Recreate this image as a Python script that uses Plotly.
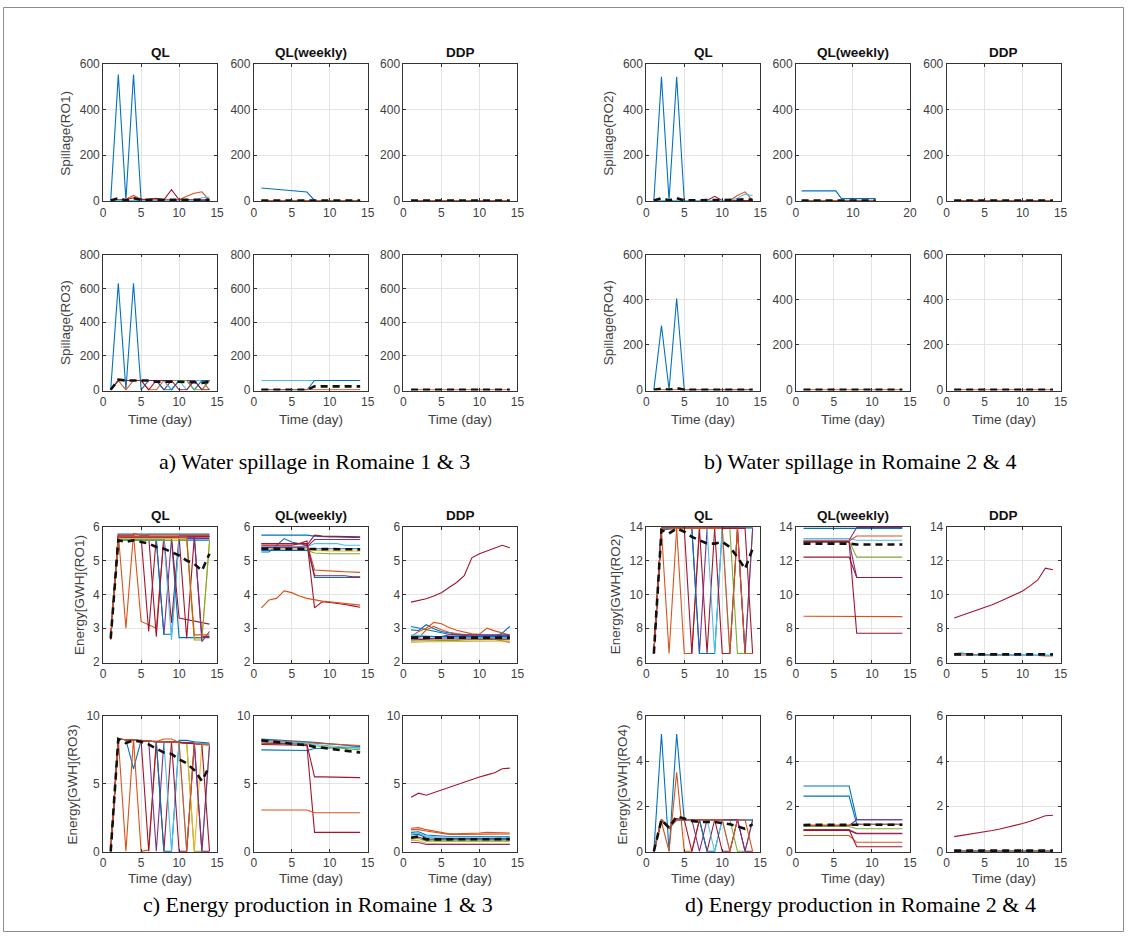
import plotly.graph_objects as go

W, H = 1131, 938
B = "#0072BD"; O = "#D95319"; Y = "#EDB120"; P = "#7E2F8E"; G = "#77AC30"; C = "#4DBEEE"; R = "#A2142F"

DAYS = [1, 2, 3, 4, 5, 6, 7, 8, 9, 10, 11, 12, 13, 14]
ZEROS = [0, 0, 0, 0, 0, 0, 0, 0, 0, 0, 0, 0, 0, 0]

# ---------------- Spillage RO1 ----------------
sp_ro1_ql = [
    [0, 555, 0, 555, 0, 0, 0, 0, 0, 0, 0, 0, 0, 0],
    [0, 3, 5, 22, 5, 5, 5, 3, 3, 3, 18, 32, 38, 0],
    [0, 0, 3, 12, 3, 5, 10, 3, 48, 3, 3, 3, 3, 3],
    [0, 0, 0, 0, 0, 0, 0, 0, 0, 0, 0, 0, 12, 15],
]
sp_ro1_ql_col = [B, O, R, C]
sp_ro1_ql_mean = [0, 10, 0, 10, 3, 3, 3, 3, 3, 3, 3, 3, 3, 3]

sp_ro1_wk = [
    [55, 52, 48, 45, 42, 40, 37, 0, 0, 0, 0, 0, 0, 0],
    ZEROS,
]
sp_ro1_wk_col = [B, O]
sp_ro1_wk_mean = ZEROS

sp_ro1_ddp = [ZEROS]
sp_ro1_ddp_col = [O]
sp_ro1_ddp_mean = ZEROS

# ---------------- Spillage RO3 ----------------
sp_ro3_ql = [
    [0, 630, 0, 630, 0, 55, 55, 55, 0, 55, 55, 55, 55, 55],
    [0, 55, 0, 55, 55, 0, 0, 55, 55, 55, 55, 55, 55, 0],
    [0, 55, 55, 55, 55, 0, 55, 0, 55, 55, 55, 55, 55, 55],
    [0, 55, 55, 55, 55, 55, 55, 55, 0, 55, 0, 55, 55, 55],
    [0, 55, 55, 55, 55, 55, 55, 0, 0, 55, 55, 0, 55, 55],
    [0, 55, 55, 55, 55, 55, 55, 55, 55, 55, 55, 55, 0, 55],
    [0, 55, 55, 55, 55, 55, 55, 55, 55, 55, 55, 0, 0, 55],
    [0, 55, 55, 55, 55, 55, 55, 55, 55, 0, 0, 55, 0, 0],
]
sp_ro3_ql_col = [B, O, R, C, B, P, G, R]
sp_ro3_ql_mean = [0, 60, 55, 55, 58, 55, 48, 48, 50, 48, 45, 45, 40, 48]

sp_ro3_wk = [
    [55, 55, 55, 55, 55, 55, 55, 55, 55, 55, 55, 55, 55, 55],
    [0, 0, 0, 0, 0, 0, 0, 55, 55, 55, 55, 55, 55, 55],
    ZEROS,
]
sp_ro3_wk_col = [C, B, O]
sp_ro3_wk_mean = [0, 0, 0, 0, 0, 0, 0, 20, 20, 20, 20, 20, 20, 20]

sp_ro3_ddp = [ZEROS]
sp_ro3_ddp_col = [O]
sp_ro3_ddp_mean = ZEROS

# ---------------- Spillage RO2 ----------------
sp_ro2_ql = [
    [0, 545, 0, 545, 0, 0, 0, 0, 0, 0, 0, 0, 0, 0],
    [0, 0, 0, 0, 0, 0, 0, 0, 0, 0, 0, 22, 38, 0],
    [0, 0, 0, 0, 0, 0, 0, 0, 18, 0, 0, 0, 0, 0],
    [0, 0, 0, 0, 0, 0, 0, 0, 0, 0, 0, 10, 28, 22],
]
sp_ro2_ql_col = [B, O, R, C]
sp_ro2_ql_mean = [0, 10, 0, 10, 0, 0, 0, 0, 2, 0, 0, 3, 5, 3]

sp_ro2_wk = [
    [42, 42, 42, 42, 42, 42, 42, 8, 8, 8, 8, 8, 8, 8],
    ZEROS,
]
sp_ro2_wk_col = [B, O]
sp_ro2_wk_mean = ZEROS

sp_ro2_ddp = [ZEROS]
sp_ro2_ddp_col = [O]
sp_ro2_ddp_mean = ZEROS

# ---------------- Spillage RO4 ----------------
sp_ro4_ql = [
    [0, 285, 0, 405, 0, 0, 0, 0, 0, 0, 0, 0, 0, 0],
    ZEROS,
]
sp_ro4_ql_col = [B, O]
sp_ro4_ql_mean = [0, 5, 0, 8, 0, 0, 0, 0, 0, 0, 0, 0, 0, 0]

sp_ro4_wk = [ZEROS]
sp_ro4_wk_col = [O]
sp_ro4_wk_mean = ZEROS

sp_ro4_ddp = [ZEROS]
sp_ro4_ddp_col = [O]
sp_ro4_ddp_mean = ZEROS

# ---------------- Energy RO1 ----------------
en_ro1_ql = [
    [2.7, 5.78, 5.78, 5.78, 5.78, 5.78, 5.78, 5.78, 5.78, 5.78, 5.78, 5.78, 5.78, 5.78],
    [2.65, 5.8, 3.0, 5.8, 5.75, 5.75, 5.75, 5.75, 5.75, 5.75, 5.75, 5.75, 5.75, 5.75],
    [2.7, 5.75, 5.75, 5.75, 3.2, 3.1, 3.0, 5.7, 5.7, 5.7, 5.7, 5.7, 5.7, 5.7],
    [2.7, 5.7, 5.7, 5.7, 5.7, 2.9, 5.7, 5.7, 5.7, 5.7, 5.7, 5.7, 5.7, 5.7],
    [2.7, 5.72, 5.72, 5.72, 5.72, 5.72, 2.75, 5.72, 3.15, 5.72, 5.72, 5.72, 5.72, 5.72],
    [2.7, 5.65, 5.65, 5.65, 5.65, 5.65, 5.65, 2.8, 5.65, 5.65, 5.65, 5.65, 5.65, 5.65],
    [2.7, 5.6, 5.6, 5.6, 5.6, 5.6, 5.6, 2.82, 2.82, 5.6, 5.6, 5.6, 5.6, 5.6],
    [2.7, 5.62, 5.62, 5.62, 5.62, 5.62, 5.62, 5.62, 2.65, 5.62, 5.62, 5.62, 5.62, 5.62],
    [2.7, 5.6, 5.6, 5.6, 5.6, 5.6, 5.6, 5.6, 5.6, 2.72, 2.72, 2.72, 2.72, 2.72],
    [2.7, 5.68, 5.68, 5.68, 5.68, 5.68, 5.68, 5.68, 5.68, 3.3, 3.25, 3.2, 3.15, 3.12],
    [2.7, 5.7, 5.7, 5.7, 5.7, 5.7, 5.7, 5.7, 5.7, 5.7, 2.7, 5.7, 2.75, 2.75],
    [2.7, 5.65, 5.65, 5.65, 5.65, 5.65, 5.65, 5.65, 5.65, 5.65, 5.65, 2.7, 2.7, 5.5],
    [2.7, 5.6, 5.6, 5.6, 5.6, 5.6, 5.6, 5.6, 5.6, 5.6, 5.6, 2.65, 2.65, 5.6],
    [2.7, 5.7, 5.7, 5.7, 5.7, 5.7, 5.7, 5.7, 5.7, 5.7, 5.7, 5.7, 2.6, 2.9],
    [2.7, 5.7, 5.7, 5.7, 5.7, 5.7, 5.7, 5.7, 5.7, 5.7, 5.7, 2.8, 2.8, 2.8],
]
en_ro1_ql_col = [B, O, O, R, R, P, B, C, B, R, R, Y, G, P, O]
en_ro1_ql_mean = [2.7, 5.6, 5.55, 5.6, 5.55, 5.5, 5.4, 5.35, 5.25, 5.15, 5.0, 4.9, 4.7, 5.2]

en_ro1_wk = [
    [5.75, 5.75, 5.75, 5.75, 5.75, 5.75, 5.75, 5.72, 5.7, 5.7, 5.7, 5.68, 5.68, 5.68],
    [5.25, 5.25, 5.45, 5.65, 5.55, 5.5, 5.45, 4.5, 4.5, 4.5, 4.5, 4.5, 4.5, 4.5],
    [5.5, 5.5, 5.5, 5.5, 5.5, 5.5, 5.5, 4.72, 4.7, 4.7, 4.68, 4.67, 4.66, 4.65],
    [5.45, 5.45, 5.45, 5.45, 5.45, 5.5, 5.58, 3.6, 3.78, 3.76, 3.74, 3.7, 3.66, 3.62],
    [3.6, 3.83, 3.88, 4.1, 4.05, 3.95, 3.88, 3.83, 3.8, 3.78, 3.75, 3.72, 3.7, 3.68],
    [5.4, 5.4, 5.4, 5.4, 5.4, 5.4, 5.45, 5.75, 5.72, 5.72, 5.7, 5.7, 5.7, 5.7],
    [5.3, 5.3, 5.3, 5.3, 5.3, 5.3, 5.3, 5.22, 5.2, 5.2, 5.2, 5.2, 5.2, 5.2],
    [5.35, 5.35, 5.35, 5.35, 5.35, 5.35, 5.35, 5.3, 5.28, 5.28, 5.28, 5.28, 5.28, 5.28],
    [5.4, 5.4, 5.4, 5.4, 5.4, 5.4, 5.4, 5.5, 5.5, 5.5, 5.5, 5.45, 5.45, 5.45],
    [5.38, 5.38, 5.38, 5.38, 5.38, 5.38, 5.4, 5.62, 5.62, 5.62, 5.62, 5.62, 5.62, 5.62],
    [5.3, 5.3, 5.3, 5.3, 5.3, 5.3, 5.3, 5.35, 5.35, 5.35, 5.35, 5.35, 5.35, 5.35],
    [5.5, 5.5, 5.5, 5.5, 5.5, 5.5, 5.5, 4.55, 4.55, 4.55, 4.55, 4.55, 4.52, 4.52],
]
en_ro1_wk_col = [B, B, O, R, O, R, G, Y, C, P, B, R]
en_ro1_wk_mean = [5.35, 5.35, 5.35, 5.35, 5.35, 5.35, 5.35, 5.33, 5.33, 5.33, 5.33, 5.33, 5.33, 5.33]

en_ro1_ddp = [
    [3.77, 3.82, 3.87, 3.95, 4.05, 4.2, 4.35, 4.55, 5.08, 5.2, 5.28, 5.36, 5.45, 5.38],
    [3.05, 3.0, 2.95, 2.9, 2.85, 2.82, 2.8, 2.78, 2.77, 2.76, 2.76, 2.76, 2.85, 3.05],
    [2.95, 2.93, 3.1, 2.98, 2.9, 2.85, 2.82, 2.8, 2.8, 2.78, 2.78, 2.78, 2.78, 2.78],
    [2.75, 2.9, 3.0, 3.17, 3.13, 3.02, 2.94, 2.88, 2.83, 2.82, 3.0, 2.92, 2.86, 2.8],
    [2.7, 2.72, 2.95, 3.05, 2.95, 2.88, 2.84, 2.8, 2.78, 2.76, 2.72, 2.68, 2.62, 2.58],
    [2.8, 2.78, 2.76, 2.74, 2.72, 2.72, 2.72, 2.72, 2.72, 2.72, 2.72, 2.72, 2.72, 2.72],
    [2.65, 2.65, 2.67, 2.7, 2.75, 2.8, 2.8, 2.8, 2.8, 2.78, 2.78, 2.78, 2.8, 2.8],
    [2.62, 2.62, 2.62, 2.62, 2.62, 2.62, 2.64, 2.65, 2.66, 2.66, 2.66, 2.66, 2.66, 2.66],
    [2.58, 2.6, 2.6, 2.6, 2.6, 2.6, 2.6, 2.6, 2.6, 2.6, 2.6, 2.6, 2.6, 2.62],
    [2.68, 2.68, 2.68, 2.68, 2.68, 2.68, 2.68, 2.68, 2.68, 2.68, 2.68, 2.68, 2.68, 2.68],
    [2.75, 2.75, 2.75, 2.75, 2.75, 2.75, 2.75, 2.75, 2.75, 2.75, 2.75, 2.75, 2.75, 2.75],
]
en_ro1_ddp_col = [R, B, B, O, O, C, P, G, Y, R, B]
en_ro1_ddp_mean = [2.72, 2.72, 2.72, 2.72, 2.72, 2.72, 2.72, 2.72, 2.72, 2.72, 2.72, 2.72, 2.72, 2.72]

# ---------------- Energy RO3 ----------------
en_ro3_ql = [
    [0, 8.3, 8.25, 6.1, 8.2, 8.15, 8.12, 8.1, 8.1, 8.05, 8.0, 8.0, 7.95, 7.9],
    [0, 8.3, 0, 8.3, 0, 0.1, 8.1, 8.3, 8.3, 8.05, 8.05, 8.0, 8.0, 7.9],
    [0, 8.3, 8.25, 8.2, 8.2, 0, 8.1, 0, 8.1, 8.05, 8.0, 8.0, 7.95, 7.9],
    [0, 8.3, 8.25, 8.2, 8.2, 8.15, 0, 8.1, 8.1, 8.05, 8.0, 8.0, 7.95, 7.9],
    [0, 8.3, 8.25, 8.2, 8.2, 8.15, 8.1, 0, 0, 8.2, 8.2, 8.1, 8.05, 8.0],
    [0, 8.3, 8.25, 8.2, 8.2, 8.15, 8.1, 8.1, 0, 8.05, 0, 8.0, 7.95, 7.9],
    [0, 8.3, 8.25, 8.2, 8.2, 8.15, 8.1, 8.1, 8.1, 0, 0, 8.0, 0, 0],
    [0, 8.3, 8.25, 8.2, 8.2, 8.15, 8.1, 8.1, 8.1, 8.05, 8.0, 0, 0, 7.8],
    [0, 8.3, 8.25, 8.2, 8.2, 8.15, 8.1, 8.1, 8.1, 8.05, 8.0, 0, 7.9, 7.85],
    [0, 8.3, 8.25, 8.2, 8.2, 8.15, 8.1, 8.1, 8.1, 8.05, 8.0, 8.0, 0, 7.8],
    [0, 8.3, 8.25, 8.2, 8.2, 8.15, 8.1, 8.1, 8.1, 8.05, 8.0, 7.95, 7.9, 0],
    [0, 8.3, 8.25, 8.2, 8.2, 8.15, 8.1, 8.1, 8.1, 8.05, 0, 7.95, 7.9, 7.85],
]
en_ro3_ql_col = [B, O, R, P, B, C, R, G, Y, P, R, O]
en_ro3_ql_mean = [0, 8.3, 8.0, 8.2, 8.1, 7.9, 7.6, 7.3, 7.2, 6.8, 6.5, 6.0, 5.2, 6.3]

en_ro3_wk = [
    [8.3, 8.27, 8.24, 8.2, 8.17, 8.14, 8.1, 8.05, 8.0, 7.95, 7.9, 7.85, 7.8, 7.75],
    [7.5, 7.5, 7.5, 7.5, 7.5, 7.48, 7.45, 7.6, 7.62, 7.64, 7.66, 7.68, 7.7, 7.72],
    [8.0, 8.0, 8.0, 8.0, 7.98, 7.95, 7.9, 5.5, 5.5, 5.48, 5.47, 5.46, 5.45, 5.45],
    [7.9, 7.9, 7.9, 7.9, 7.88, 7.85, 7.8, 1.4, 1.4, 1.4, 1.4, 1.4, 1.4, 1.4],
    [3.05, 3.05, 3.05, 3.05, 3.05, 3.05, 3.05, 2.85, 2.85, 2.85, 2.85, 2.85, 2.85, 2.85],
    [8.2, 8.18, 8.15, 8.12, 8.1, 8.07, 8.05, 8.0, 7.97, 7.95, 7.9, 7.88, 7.85, 7.82],
    [8.1, 8.08, 8.05, 8.02, 8.0, 7.98, 7.95, 7.8, 7.75, 7.7, 7.65, 7.6, 7.55, 7.5],
    [8.15, 8.12, 8.1, 8.07, 8.05, 8.02, 8.0, 7.9, 7.85, 7.8, 7.75, 7.7, 7.65, 7.6],
]
en_ro3_wk_col = [B, B, R, R, O, O, G, C]
en_ro3_wk_mean = [8.2, 8.13, 8.07, 8.0, 7.95, 7.9, 7.85, 7.72, 7.65, 7.58, 7.5, 7.43, 7.37, 7.3]

en_ro3_ddp = [
    [4.0, 4.3, 4.15, 4.35, 4.55, 4.75, 4.95, 5.15, 5.35, 5.5, 5.65, 5.8, 6.1, 6.15],
    [1.7, 1.75, 1.6, 1.5, 1.45, 1.3, 1.3, 1.3, 1.35, 1.35, 1.4, 1.4, 1.35, 1.35],
    [1.6, 1.6, 1.5, 1.4, 1.35, 1.25, 1.25, 1.25, 1.28, 1.3, 1.3, 1.3, 1.28, 1.28],
    [1.4, 1.45, 1.2, 1.15, 1.15, 1.1, 1.1, 1.1, 1.1, 1.1, 1.1, 1.1, 1.1, 1.1],
    [1.3, 1.35, 1.1, 1.05, 1.05, 1.05, 1.05, 1.05, 1.05, 1.05, 1.05, 1.05, 1.05, 1.05],
    [0.9, 0.95, 0.75, 0.75, 0.75, 0.75, 0.75, 0.75, 0.75, 0.75, 0.75, 0.75, 0.75, 0.75],
    [0.8, 0.8, 0.6, 0.55, 0.55, 0.55, 0.55, 0.55, 0.55, 0.55, 0.55, 0.55, 0.55, 0.55],
    [0.65, 0.65, 0.5, 0.5, 0.5, 0.5, 0.5, 0.5, 0.5, 0.5, 0.5, 0.5, 0.5, 0.5],
    [1.2, 1.25, 1.0, 0.95, 0.95, 0.95, 0.95, 0.95, 0.95, 0.95, 0.95, 0.95, 0.95, 0.95],
    [1.0, 1.05, 0.85, 0.85, 0.85, 0.85, 0.85, 0.85, 0.85, 0.85, 0.85, 0.85, 0.85, 0.85],
]
en_ro3_ddp_col = [R, O, O, B, C, G, Y, P, B, R]
en_ro3_ddp_mean = [1.0, 1.1, 0.88, 0.88, 0.88, 0.88, 0.88, 0.88, 0.88, 0.88, 0.9, 0.9, 0.9, 0.9]

# ---------------- Energy RO2 ----------------
en_ro2_ql = [
    [6.5, 13.8, 13.85, 13.9, 13.9, 13.9, 13.9, 13.9, 13.9, 13.9, 13.9, 13.9, 13.9, 13.9],
    [6.5, 13.8, 6.5, 13.9, 13.9, 13.9, 13.9, 13.9, 13.9, 13.9, 13.9, 13.9, 13.9, 13.9],
    [6.5, 13.9, 13.9, 13.9, 6.5, 6.5, 13.9, 13.9, 13.9, 13.9, 13.9, 13.9, 13.9, 13.9],
    [6.5, 13.9, 13.9, 13.9, 13.9, 6.5, 13.9, 6.5, 13.9, 13.9, 13.9, 13.9, 13.9, 13.9],
    [6.5, 13.9, 13.9, 13.9, 13.9, 13.9, 6.5, 13.9, 13.9, 13.9, 13.9, 13.9, 13.9, 13.9],
    [6.5, 13.9, 13.9, 13.9, 13.9, 13.9, 6.5, 6.5, 6.5, 13.9, 13.9, 13.9, 13.9, 13.9],
    [6.5, 13.9, 13.9, 13.9, 13.9, 13.9, 13.9, 13.9, 6.5, 13.9, 6.5, 13.9, 13.9, 13.9],
    [6.5, 13.9, 13.9, 13.9, 13.9, 13.9, 13.9, 13.9, 13.9, 6.5, 6.5, 13.9, 6.5, 6.5],
    [6.5, 13.9, 13.9, 13.9, 13.9, 13.9, 13.9, 13.9, 13.9, 13.9, 13.9, 6.5, 6.5, 13.9],
    [6.5, 13.9, 13.9, 13.9, 13.9, 13.9, 13.9, 13.9, 13.9, 13.9, 13.9, 13.9, 6.5, 13.9],
    [6.5, 13.9, 13.9, 13.9, 13.9, 13.9, 13.9, 13.9, 13.9, 13.9, 13.9, 13.9, 13.9, 6.5],
    [6.5, 13.9, 13.9, 13.9, 13.9, 13.9, 13.9, 13.9, 13.9, 13.9, 6.5, 13.9, 6.5, 6.5],
]
en_ro2_ql_col = [B, O, O, R, P, B, C, R, G, P, R, O]
en_ro2_ql_mean = [6.5, 13.8, 13.6, 13.9, 13.7, 13.4, 13.2, 13.0, 13.0, 13.1, 12.8, 12.2, 11.5, 12.7]

en_ro2_wk = [
    [13.9, 13.9, 13.9, 13.9, 13.9, 13.9, 13.9, 13.9, 13.9, 13.9, 13.9, 13.9, 13.9, 13.9],
    [13.3, 13.3, 13.3, 13.3, 13.3, 13.3, 13.3, 13.2, 13.2, 13.2, 13.2, 13.2, 13.2, 13.2],
    [13.2, 13.2, 13.2, 13.2, 13.2, 13.2, 13.2, 13.95, 13.95, 13.95, 13.95, 13.95, 13.95, 13.95],
    [13.15, 13.15, 13.15, 13.15, 13.15, 13.15, 13.15, 13.45, 13.45, 13.45, 13.45, 13.45, 13.45, 13.45],
    [13.15, 13.15, 13.15, 13.15, 13.15, 13.15, 13.15, 12.2, 12.2, 12.2, 12.2, 12.2, 12.2, 12.2],
    [13.1, 13.1, 13.1, 13.1, 13.1, 13.1, 13.1, 11.0, 11.0, 11.0, 11.0, 11.0, 11.0, 11.0],
    [12.2, 12.2, 12.2, 12.2, 12.2, 12.2, 12.2, 11.0, 11.0, 11.0, 11.0, 11.0, 11.0, 11.0],
    [8.7, 8.7, 8.7, 8.7, 8.7, 8.7, 8.7, 8.68, 8.68, 8.68, 8.68, 8.68, 8.68, 8.68],
    [13.1, 13.1, 13.1, 13.1, 13.1, 13.1, 13.1, 7.7, 7.7, 7.7, 7.7, 7.7, 7.7, 7.7],
]
en_ro2_wk_col = [B, C, P, O, G, P, R, O, R]
en_ro2_wk_mean = [13.0, 13.0, 13.0, 13.0, 13.0, 13.0, 13.0, 12.95, 12.95, 12.95, 12.95, 12.95, 12.95, 12.95]

en_ro2_ddp = [
    [8.6, 8.75, 8.9, 9.05, 9.2, 9.38, 9.57, 9.77, 9.98, 10.2, 10.5, 10.85, 11.55, 11.45],
    [6.5, 6.52, 6.45, 6.42, 6.42, 6.42, 6.42, 6.42, 6.42, 6.42, 6.42, 6.42, 6.4, 6.4],
    [6.42, 6.42, 6.4, 6.38, 6.38, 6.38, 6.38, 6.38, 6.38, 6.38, 6.38, 6.38, 6.36, 6.35],
    [6.45, 6.5, 6.43, 6.4, 6.4, 6.4, 6.4, 6.4, 6.4, 6.4, 6.4, 6.4, 6.38, 6.38],
]
en_ro2_ddp_col = [R, B, O, C]
en_ro2_ddp_mean = [6.45, 6.45, 6.45, 6.45, 6.45, 6.45, 6.45, 6.45, 6.45, 6.45, 6.45, 6.45, 6.45, 6.45]

# ---------------- Energy RO4 ----------------
en_ro4_ql = [
    [0, 5.2, 0, 5.2, 1.4, 1.4, 1.4, 1.4, 1.4, 1.4, 1.4, 1.4, 1.4, 1.4],
    [0, 1.3, 0, 3.5, 0, 0, 1.4, 1.4, 1.4, 1.4, 1.4, 1.4, 1.4, 1.4],
    [0, 1.35, 1.0, 1.45, 1.4, 0, 1.4, 0, 1.4, 1.4, 1.4, 1.4, 1.4, 1.4],
    [0, 1.4, 1.05, 1.4, 1.4, 1.4, 0, 1.4, 1.4, 1.4, 1.4, 1.4, 1.4, 1.4],
    [0, 1.4, 1.05, 1.4, 1.4, 1.4, 1.4, 0, 0, 1.4, 1.4, 1.4, 1.4, 1.4],
    [0, 1.4, 1.05, 1.4, 1.4, 1.4, 1.4, 1.4, 0, 1.4, 0, 1.4, 1.4, 1.4],
    [0, 1.4, 1.05, 1.4, 1.4, 1.4, 1.4, 1.4, 1.4, 0, 0, 1.4, 0, 0],
    [0, 1.4, 1.05, 1.4, 1.4, 1.4, 1.4, 1.4, 1.4, 1.4, 1.4, 0, 0, 1.35],
    [0, 1.4, 1.05, 1.4, 1.4, 1.4, 1.4, 1.4, 1.4, 1.4, 1.4, 1.4, 0, 1.4],
    [0, 1.4, 1.05, 1.4, 1.4, 1.4, 1.4, 1.4, 1.4, 1.4, 0, 1.4, 1.4, 0],
]
en_ro4_ql_col = [B, O, R, P, B, C, R, G, P, O]
en_ro4_ql_mean = [0, 1.4, 1.05, 1.55, 1.45, 1.35, 1.3, 1.3, 1.3, 1.25, 1.2, 1.1, 1.0, 1.2]

en_ro4_wk = [
    [2.9, 2.9, 2.9, 2.9, 2.9, 2.9, 2.9, 1.4, 1.4, 1.4, 1.4, 1.4, 1.4, 1.4],
    [2.45, 2.45, 2.45, 2.45, 2.45, 2.45, 2.45, 1.2, 1.2, 1.2, 1.2, 1.2, 1.2, 1.2],
    [1.15, 1.15, 1.15, 1.15, 1.15, 1.15, 1.15, 1.4, 1.4, 1.4, 1.4, 1.4, 1.4, 1.4],
    [1.15, 1.15, 1.15, 1.15, 1.15, 1.15, 1.15, 1.2, 1.2, 1.2, 1.2, 1.2, 1.2, 1.2],
    [1.1, 1.1, 1.1, 1.1, 1.1, 1.1, 1.1, 1.0, 1.0, 1.0, 1.0, 1.0, 1.0, 1.0],
    [0.95, 0.95, 0.95, 0.95, 0.95, 0.95, 0.95, 0.8, 0.8, 0.8, 0.8, 0.8, 0.8, 0.8],
    [0.92, 0.92, 0.92, 0.92, 0.92, 0.92, 0.92, 0.78, 0.78, 0.78, 0.78, 0.78, 0.78, 0.78],
    [0.7, 0.7, 0.7, 0.7, 0.7, 0.7, 0.7, 0.4, 0.4, 0.4, 0.4, 0.4, 0.4, 0.4],
    [0.95, 0.95, 0.95, 0.95, 0.95, 0.95, 0.95, 0.2, 0.2, 0.2, 0.2, 0.2, 0.2, 0.2],
]
en_ro4_wk_col = [B, B, P, O, G, P, R, O, R]
en_ro4_wk_mean = [1.17, 1.17, 1.17, 1.17, 1.17, 1.17, 1.17, 1.18, 1.18, 1.18, 1.18, 1.18, 1.18, 1.18]

en_ro4_ddp = [
    [0.65, 0.7, 0.75, 0.8, 0.86, 0.92, 0.99, 1.06, 1.14, 1.23, 1.33, 1.44, 1.58, 1.6],
    [0.02, 0.02, 0.02, 0.02, 0.02, 0.02, 0.02, 0.02, 0.02, 0.02, 0.02, 0.02, 0.02, 0.02],
    ZEROS,
]
en_ro4_ddp_col = [R, B, O]
en_ro4_ddp_mean = [0.03, 0.03, 0.03, 0.03, 0.03, 0.03, 0.03, 0.03, 0.03, 0.03, 0.03, 0.03, 0.03, 0.03]

# tick / range settings
X_TICKS = [0, 5, 10, 15]
X_TICKS_20 = [0, 10, 20]
SP_TICKS_600 = [0, 200, 400, 600]
SP_TICKS_800 = [0, 200, 400, 600, 800]
EN_RO1_TICKS = [2, 3, 4, 5, 6]
EN_RO3_TICKS = [0, 5, 10]
EN_RO2_TICKS = [6, 8, 10, 12, 14]
EN_RO4_TICKS = [0, 2, 4, 6]

# ---------------- layout geometry (pixels) ----------------
COLS_L = [(101, 216), (253, 368), (404, 519)]
COLS_R = [(649, 764), (800, 915), (952, 1067)]
ROWS = [(58, 197), (251, 389), (527, 665), (719, 857)]

AX_FONT = dict(family="Liberation Sans, Arial, sans-serif", size=12, color="#404040")

panels = [
    # left group
    (COLS_L[0], ROWS[0], (0, 15), X_TICKS, (0, 600), SP_TICKS_600, sp_ro1_ql, sp_ro1_ql_col, sp_ro1_ql_mean),
    (COLS_L[1], ROWS[0], (0, 15), X_TICKS, (0, 600), SP_TICKS_600, sp_ro1_wk, sp_ro1_wk_col, sp_ro1_wk_mean),
    (COLS_L[2], ROWS[0], (0, 15), X_TICKS, (0, 600), SP_TICKS_600, sp_ro1_ddp, sp_ro1_ddp_col, sp_ro1_ddp_mean),
    (COLS_L[0], ROWS[1], (0, 15), X_TICKS, (0, 800), SP_TICKS_800, sp_ro3_ql, sp_ro3_ql_col, sp_ro3_ql_mean),
    (COLS_L[1], ROWS[1], (0, 15), X_TICKS, (0, 800), SP_TICKS_800, sp_ro3_wk, sp_ro3_wk_col, sp_ro3_wk_mean),
    (COLS_L[2], ROWS[1], (0, 15), X_TICKS, (0, 800), SP_TICKS_800, sp_ro3_ddp, sp_ro3_ddp_col, sp_ro3_ddp_mean),
    (COLS_L[0], ROWS[2], (0, 15), X_TICKS, (2, 6), EN_RO1_TICKS, en_ro1_ql, en_ro1_ql_col, en_ro1_ql_mean),
    (COLS_L[1], ROWS[2], (0, 15), X_TICKS, (2, 6), EN_RO1_TICKS, en_ro1_wk, en_ro1_wk_col, en_ro1_wk_mean),
    (COLS_L[2], ROWS[2], (0, 15), X_TICKS, (2, 6), EN_RO1_TICKS, en_ro1_ddp, en_ro1_ddp_col, en_ro1_ddp_mean),
    (COLS_L[0], ROWS[3], (0, 15), X_TICKS, (0, 10), EN_RO3_TICKS, en_ro3_ql, en_ro3_ql_col, en_ro3_ql_mean),
    (COLS_L[1], ROWS[3], (0, 15), X_TICKS, (0, 10), EN_RO3_TICKS, en_ro3_wk, en_ro3_wk_col, en_ro3_wk_mean),
    (COLS_L[2], ROWS[3], (0, 15), X_TICKS, (0, 10), EN_RO3_TICKS, en_ro3_ddp, en_ro3_ddp_col, en_ro3_ddp_mean),
    # right group
    (COLS_R[0], ROWS[0], (0, 15), X_TICKS, (0, 600), SP_TICKS_600, sp_ro2_ql, sp_ro2_ql_col, sp_ro2_ql_mean),
    (COLS_R[1], ROWS[0], (0, 20), X_TICKS_20, (0, 600), SP_TICKS_600, sp_ro2_wk, sp_ro2_wk_col, sp_ro2_wk_mean),
    (COLS_R[2], ROWS[0], (0, 15), X_TICKS, (0, 600), SP_TICKS_600, sp_ro2_ddp, sp_ro2_ddp_col, sp_ro2_ddp_mean),
    (COLS_R[0], ROWS[1], (0, 15), X_TICKS, (0, 600), SP_TICKS_600, sp_ro4_ql, sp_ro4_ql_col, sp_ro4_ql_mean),
    (COLS_R[1], ROWS[1], (0, 15), X_TICKS, (0, 600), SP_TICKS_600, sp_ro4_wk, sp_ro4_wk_col, sp_ro4_wk_mean),
    (COLS_R[2], ROWS[1], (0, 15), X_TICKS, (0, 600), SP_TICKS_600, sp_ro4_ddp, sp_ro4_ddp_col, sp_ro4_ddp_mean),
    (COLS_R[0], ROWS[2], (0, 15), X_TICKS, (6, 14), EN_RO2_TICKS, en_ro2_ql, en_ro2_ql_col, en_ro2_ql_mean),
    (COLS_R[1], ROWS[2], (0, 15), X_TICKS, (6, 14), EN_RO2_TICKS, en_ro2_wk, en_ro2_wk_col, en_ro2_wk_mean),
    (COLS_R[2], ROWS[2], (0, 15), X_TICKS, (6, 14), EN_RO2_TICKS, en_ro2_ddp, en_ro2_ddp_col, en_ro2_ddp_mean),
    (COLS_R[0], ROWS[3], (0, 15), X_TICKS, (0, 6), EN_RO4_TICKS, en_ro4_ql, en_ro4_ql_col, en_ro4_ql_mean),
    (COLS_R[1], ROWS[3], (0, 15), X_TICKS, (0, 6), EN_RO4_TICKS, en_ro4_wk, en_ro4_wk_col, en_ro4_wk_mean),
    (COLS_R[2], ROWS[3], (0, 15), X_TICKS, (0, 6), EN_RO4_TICKS, en_ro4_ddp, en_ro4_ddp_col, en_ro4_ddp_mean),
]

fig = go.Figure()
layout_axes = {}
for i, (xc, yr_px, xr, xt, yr, yt, lines, cols, mean) in enumerate(panels, start=1):
    xid = "x" if i == 1 else f"x{i}"
    yid = "y" if i == 1 else f"y{i}"
    xname = "xaxis" if i == 1 else f"xaxis{i}"
    yname = "yaxis" if i == 1 else f"yaxis{i}"
    pad = (yr[1] - yr[0]) * 0.006
    common = dict(
        ticks="inside", ticklen=3, tickwidth=0.8, tickcolor="#333333",
        showline=True, linecolor="#333333", linewidth=0.8, mirror="ticks",
        showgrid=True, gridcolor="#e4e4e4", gridwidth=1, zeroline=False,
        tickfont=AX_FONT, fixedrange=True,
    )
    layout_axes[xname] = dict(
        domain=[xc[0] / W, xc[1] / W], range=list(xr), tickvals=xt,
        anchor=yid, **common,
    )
    layout_axes[yname] = dict(
        domain=[1 - yr_px[1] / H, 1 - yr_px[0] / H], range=[yr[0] - pad, yr[1]],
        tickvals=yt, anchor=xid, **common,
    )
    for vals, c in zip(lines, cols):
        fig.add_trace(go.Scatter(x=DAYS, y=vals, mode="lines", line=dict(color=c, width=1.1),
                                 xaxis=xid, yaxis=yid, showlegend=False, hoverinfo="skip"))
    fig.add_trace(go.Scatter(x=DAYS, y=mean, mode="lines",
                             line=dict(color="#111111", width=2.6, dash="7px,5px"),
                             xaxis=xid, yaxis=yid, showlegend=False, hoverinfo="skip"))

ann = []
def px_ann(text, x, y, **kw):
    d = dict(text=text, x=x / W, y=1 - y / H, xref="paper", yref="paper",
             showarrow=False, xanchor="center", yanchor="middle")
    d.update(kw)
    ann.append(d)

TITLE_FONT = dict(family="Liberation Sans, Arial, sans-serif", size=13.5, color="#111111")
LABEL_FONT = dict(family="Liberation Sans, Arial, sans-serif", size=13.5, color="#404040")
CAP_FONT = dict(family="Liberation Serif, Times New Roman, serif", size=22, color="#000000")

col_titles = ["<b>QL</b>", "<b>QL(weekly)</b>", "<b>DDP</b>"]
for cols in (COLS_L, COLS_R):
    for (a, b), t in zip(cols, col_titles):
        px_ann(t, (a + b) / 2, 46, font=TITLE_FONT)
        px_ann(t, (a + b) / 2, 516, font=TITLE_FONT)
        px_ann("Time (day)", (a + b) / 2, 418, font=LABEL_FONT)
        px_ann("Time (day)", (a + b) / 2, 884, font=LABEL_FONT)

ylabels = [
    ("Spillage(RO1)", 63, 128), ("Spillage(RO3)", 63, 320),
    ("Energy[GWH](RO1)", 77, 596), ("Energy[GWH](RO3)", 70, 788),
    ("Spillage(RO2)", 611, 128), ("Spillage(RO4)", 611, 320),
    ("Energy[GWH](RO2)", 618, 596), ("Energy[GWH](RO4)", 625, 788),
]
for t, x, y in ylabels:
    px_ann(t, x, y, textangle=-90, font=LABEL_FONT)

captions = [
    ("a) Water spillage in Romaine 1 &amp; 3", 314, 461),
    ("b) Water spillage in Romaine 2 &amp; 4", 865, 461),
    ("c) Energy production in Romaine 1 &amp; 3", 318, 910),
    ("d) Energy production in Romaine 2 &amp; 4", 865, 910),
]
for t, x, y in captions:
    px_ann(t, x, y, font=CAP_FONT)

fig.update_layout(
    width=W, height=H, margin=dict(l=0, r=0, t=0, b=0),
    paper_bgcolor="white", plot_bgcolor="white",
    annotations=ann,
    shapes=[dict(type="rect", xref="paper", yref="paper", x0=0.5 / W, y0=0.5 / H,
                 x1=1 - 0.5 / W, y1=1 - 0.5 / H, line=dict(color="#8c8c8c", width=1))],
    **layout_axes,
)

fig.write_html("out.html", config={"displayModeBar": False},
               post_script="document.body.style.margin='0px';document.body.style.overflow='hidden';")
